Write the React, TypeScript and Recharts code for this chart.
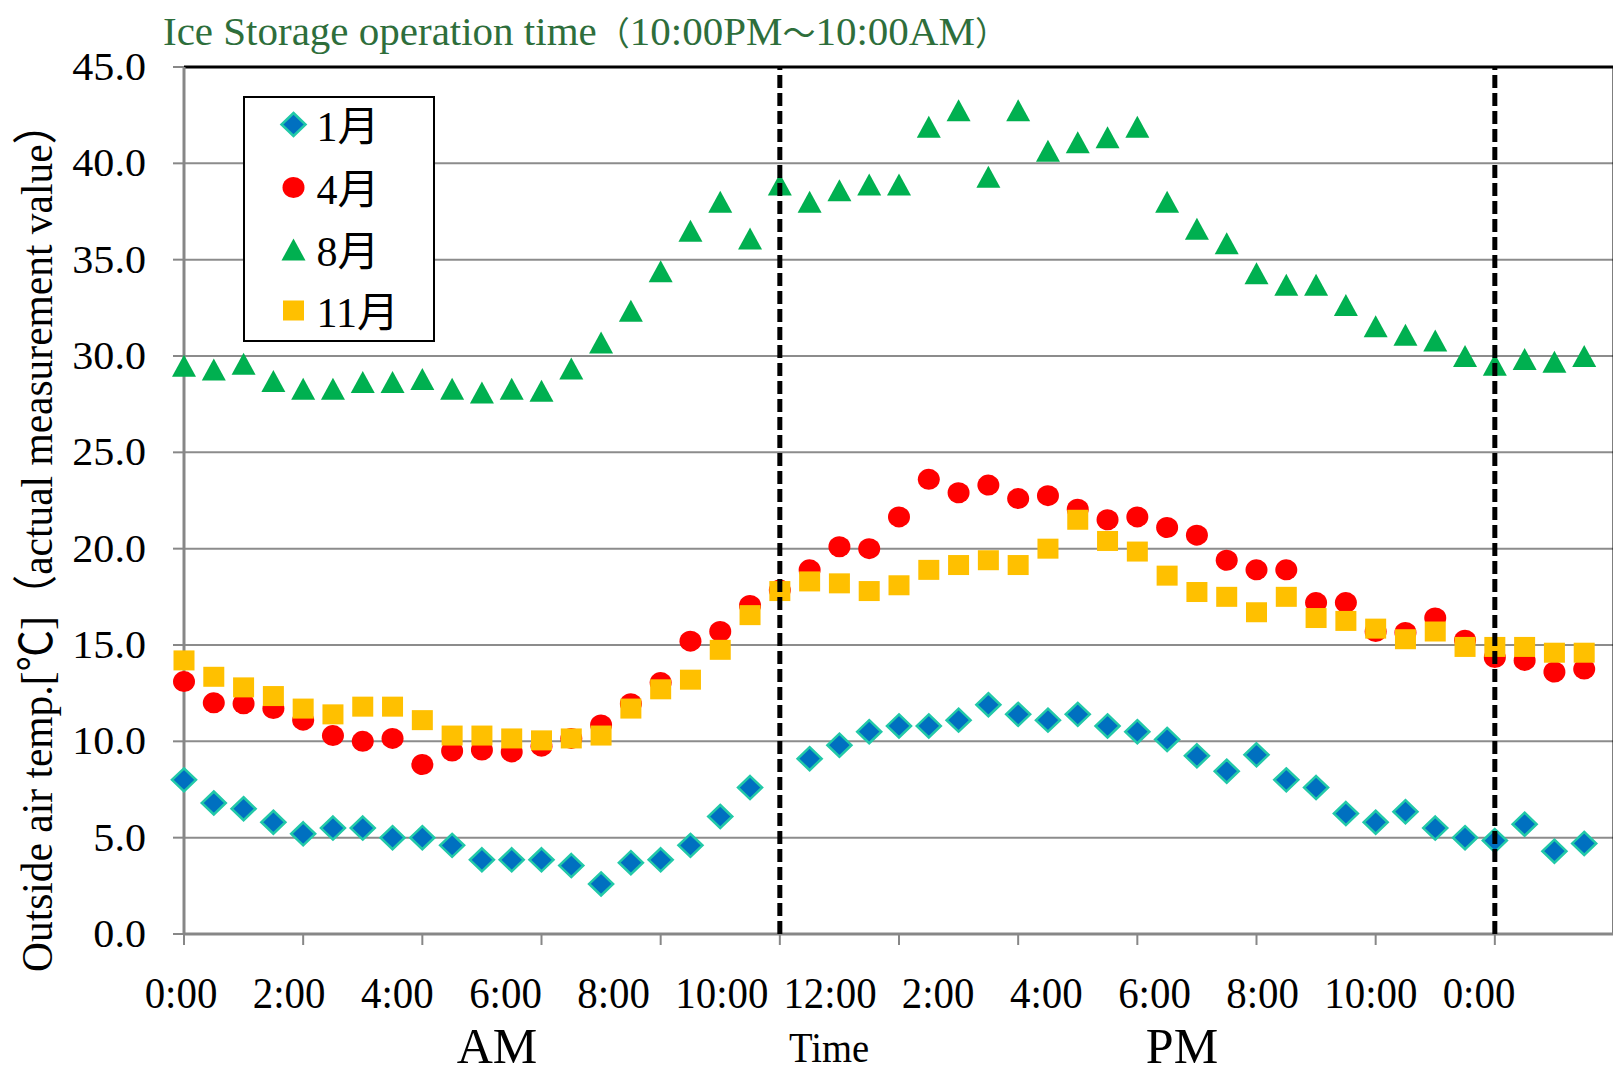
import React from 'react';
import { ScatterChart, Scatter, XAxis, YAxis, CartesianGrid, ReferenceLine, Legend } from 'recharts';

const times = [
  0, 0.5, 1, 1.5, 2, 2.5, 3, 3.5, 4, 4.5, 5, 5.5,
  6, 6.5, 7, 7.5, 8, 8.5, 9, 9.5, 10, 10.5, 11, 11.5,
  12, 12.5, 13, 13.5, 14, 14.5, 15, 15.5, 16, 16.5, 17, 17.5,
  18, 18.5, 19, 19.5, 20, 20.5, 21, 21.5, 22, 22.5, 23, 23.5,
];

const xTicks = [0, 2, 4, 6, 8, 10, 12, 14, 16, 18, 20, 22, 24];
const xTickLabels = ['0:00', '2:00', '4:00', '6:00', '8:00', '10:00', '12:00', '2:00', '4:00', '6:00', '8:00', '10:00', '0:00'];
const yTicks = [0, 5, 10, 15, 20, 25, 30, 35, 40, 45];

const iceEnd = 10;
const iceStart = 22;

const jan = [
  8.0, 6.8, 6.5, 5.8, 5.2, 5.5, 5.5, 5.0, 5.0, 4.6, 3.85, 3.85,
  3.85, 3.55, 2.6, 3.7, 3.85, 4.6, 6.1, 7.6, null, 9.1, 9.8, 10.5,
  10.8, 10.8, 11.1, 11.9, 11.4, 11.1, 11.4, 10.8, 10.5, 10.1, 9.25, 8.45,
  9.3, 8.0, 7.6, 6.25, 5.8, 6.35, 5.5, 5.0, 4.85, 5.7, 4.3, 4.7,
];
const apr = [
  13.1, 12.0, 11.95, 11.7, 11.1, 10.3, 10.0, 10.15, 8.8, 9.5, 9.55, 9.45,
  9.75, 10.15, 10.85, 11.95, 13.05, 15.2, 15.7, 17.05, 17.85, 18.9, 20.1, 20.0,
  21.65, 23.6, 22.9, 23.3, 22.6, 22.75, 22.05, 21.5, 21.65, 21.1, 20.7, 19.4,
  18.9, 18.9, 17.2, 17.2, 15.7, 15.65, 16.4, 15.25, 14.35, 14.2, 13.6, 13.75,
];
const aug = [
  29.5, 29.3, 29.6, 28.7, 28.3, 28.3, 28.65, 28.65, 28.8, 28.3, 28.1, 28.3,
  28.2, 29.35, 30.7, 32.35, 34.4, 36.5, 38.0, 36.1, 38.9, 38.0, 38.6, 38.9,
  38.9, 41.9, 42.75, 39.3, 42.75, 40.65, 41.1, 41.35, 41.9, 38.0, 36.6, 35.85,
  34.3, 33.7, 33.7, 32.65, 31.55, 31.1, 30.8, 30.0, 29.55, 29.85, 29.7, 30.0,
];
const nov = [
  14.2, 13.35, 12.8, 12.35, 11.7, 11.4, 11.8, 11.8, 11.1, 10.3, 10.3, 10.15,
  10.05, 10.15, 10.3, 11.7, 12.7, 13.2, 14.75, 16.55, 17.8, 18.3, 18.2, 17.8,
  18.1, 18.9, 19.15, 19.4, 19.15, 20.0, 21.5, 20.4, 19.85, 18.6, 17.75, 17.5,
  16.7, 17.5, 16.4, 16.25, 15.85, 15.3, 15.7, 14.9, 14.9, 14.9, 14.6, 14.6,
];

const SERIF = '"Liberation Serif", "Times New Roman", "Noto Sans CJK JP", serif';
const LATIN = '"Liberation Serif", "Times New Roman", serif';
const CJK = '"Noto Sans CJK JP", "Noto Sans CJK SC", sans-serif';

const toPoints = (vals: (number | null)[]) =>
  times.map((t, i) => ({ t, v: vals[i] })).filter((p) => p.v !== null && p.v !== undefined);

const Diamond = (p: any) => {
  const { cx, cy } = p;
  if (cx == null || cy == null) return null;
  return (
    <polygon
      points={`${cx},${cy - 11.5} ${cx + 12},${cy} ${cx},${cy + 11.5} ${cx - 12},${cy}`}
      fill="#0070C0"
      stroke="#22C9A8"
      strokeWidth={2.5}
    />
  );
};
const Dot = (p: any) => {
  const { cx, cy } = p;
  if (cx == null || cy == null) return null;
  return <ellipse cx={cx} cy={cy} rx={11} ry={10.5} fill="#FF0000" />;
};
const Tri = (p: any) => {
  const { cx, cy } = p;
  if (cx == null || cy == null) return null;
  return <polygon points={`${cx},${cy - 11} ${cx + 12},${cy + 11} ${cx - 12},${cy + 11}`} fill="#00B050" />;
};
const Sq = (p: any) => {
  const { cx, cy } = p;
  if (cx == null || cy == null) return null;
  return <rect x={cx - 10.5} y={cy - 10} width={21} height={20} fill="#FFC000" />;
};

const seriesMeta = [
  { name: '1月', values: jan, Shape: Diamond },
  { name: '4月', values: apr, Shape: Dot },
  { name: '8月', values: aug, Shape: Tri },
  { name: '11月', values: nov, Shape: Sq },
];

const XTick = (props: any) => {
  const { x, y, payload } = props;
  const v = payload.value;
  const idx = xTicks.indexOf(v);
  const lx = x - v * 5.5 - 3;
  return (
    <g transform={`translate(${lx},${y + 61}) scale(0.93,1)`}>
      <text textAnchor="middle" fontSize={44} fontFamily={SERIF} fill="#000">
        {xTickLabels[idx]}
      </text>
    </g>
  );
};

const YTick = (props: any) => {
  const { x, y, payload } = props;
  return (
    <g transform={`translate(${x},${y}) scale(1.08,1)`}>
      <text textAnchor="end" dominantBaseline="central" fontSize={39} fontFamily={SERIF} fill="#000">
        {Number(payload.value).toFixed(1)}
      </text>
    </g>
  );
};

const LegendBox = (props: any) => {
  const payload = props.payload || [];
  const rowsY = [26.5, 89.5, 151.5, 212.5];
  const items = seriesMeta.filter((s) => payload.length === 0 || payload.some((e: any) => e.value === s.name));
  return (
    <div
      style={{
        boxSizing: 'border-box',
        width: 192,
        height: 246,
        border: '2.5px solid #000',
        background: '#fff',
        position: 'relative',
      }}
    >
      <svg width={187} height={241} style={{ position: 'absolute', left: 0, top: 0 }}>
        {items.map((s, i) => {
          const Shape = s.Shape;
          return (
            <g key={s.name}>
              <Shape cx={48.5} cy={rowsY[i]} />
              <text x={71.5} y={rowsY[i] + 16} fontSize={42} fontFamily={SERIF} fill="#000">
                {s.name}
              </text>
            </g>
          );
        })}
      </svg>
    </div>
  );
};

export default function App() {
  return (
    <div style={{ position: 'relative', width: 1613, height: 1066 }}>
      <ScatterChart width={1613} height={1066} margin={{ top: 59, right: 7, bottom: 80, left: 26 }}>
        <CartesianGrid horizontal vertical={false} stroke="#8C8C8C" strokeWidth={2} />
        <XAxis
          type="number"
          dataKey="t"
          domain={[0, 24]}
          ticks={xTicks}
          interval={0}
          height={60}
          tickSize={11}
          tickMargin={2}
          tick={<XTick />}
          axisLine={{ stroke: '#878787', strokeWidth: 3 }}
          tickLine={{ stroke: '#878787', strokeWidth: 2 }}
        />
        <YAxis
          type="number"
          dataKey="v"
          domain={[0, 45]}
          ticks={yTicks}
          interval={0}
          width={150}
          tickSize={11}
          tickMargin={27}
          tick={<YTick />}
          axisLine={{ stroke: '#878787', strokeWidth: 3 }}
          tickLine={{ stroke: '#878787', strokeWidth: 2 }}
        />
        <ReferenceLine y={45} stroke="#000" strokeWidth={3} />
        <ReferenceLine x={24} stroke="#000" strokeWidth={3} />
        {seriesMeta.map((s) => (
          <Scatter
            key={s.name}
            name={s.name}
            data={toPoints(s.values)}
            shape={(p: any) => <s.Shape {...p} />}
            isAnimationActive={false}
          />
        ))}
        <ReferenceLine x={iceEnd} stroke="#000" strokeWidth={5} strokeDasharray="13 5" zIndex={700} />
        <ReferenceLine x={iceStart} stroke="#000" strokeWidth={5} strokeDasharray="13 5" zIndex={700} />
        <Legend
          layout="vertical"
          verticalAlign="middle"
          align="center"
          wrapperStyle={{ left: 235, top: 88, width: 192, height: 246 }}
          content={<LegendBox />}
        />
      </ScatterChart>
      <svg width={1613} height={1066} style={{ position: 'absolute', left: 0, top: 0, pointerEvents: 'none' }}>
        <text x={155} y={37} fontSize={41} fill="#2E6E3B" fontFamily={LATIN}>
          Ice Storage operation time
          <tspan fontSize={33} fontFamily={CJK}>（</tspan>
          <tspan>10:00PM</tspan>
          <tspan fontSize={33} fontFamily={CJK}>～</tspan>
          <tspan>10:00AM</tspan>
          <tspan fontSize={33} fontFamily={CJK}>）</tspan>
        </text>
        <text
          transform="translate(29,529.5) rotate(-90)"
          textAnchor="middle"
          dominantBaseline="central"
          fontSize={45}
          fill="#000"
          fontFamily={SERIF}
          textLength={869}
          lengthAdjust="spacingAndGlyphs"
        >
          Outside air temp.[℃]（actual measurement value）
        </text>
        <text x={489} y={1055} textAnchor="middle" fontSize={50} fontFamily={LATIN} fill="#000">
          AM
        </text>
        <g transform="translate(821,1054) scale(0.92,1)">
          <text textAnchor="middle" fontSize={42} fontFamily={LATIN} fill="#000">
            Time
          </text>
        </g>
        <text x={1174} y={1055} textAnchor="middle" fontSize={50} fontFamily={LATIN} fill="#000">
          PM
        </text>
      </svg>
    </div>
  );
}
